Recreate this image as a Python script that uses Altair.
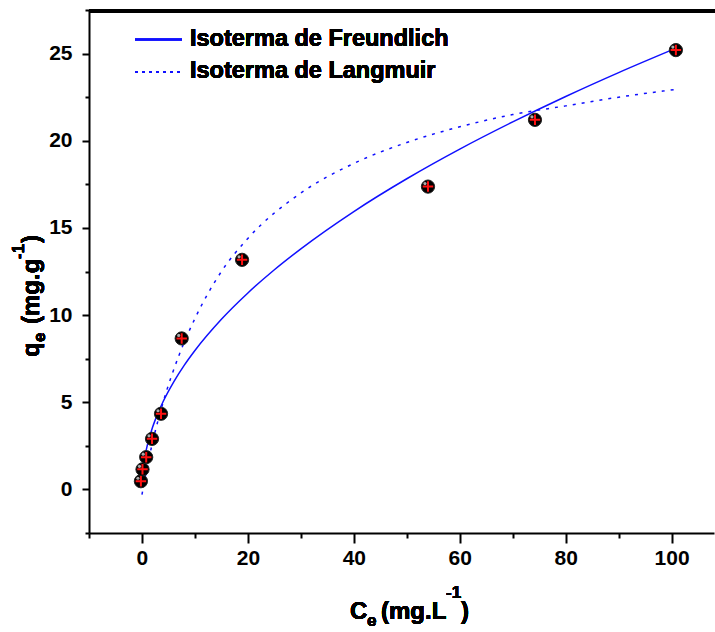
import altair as alt
import pandas as pd

# Experimental points (Ce, qe)
ce_points = [-0.2, 0.1, 0.8, 1.9, 3.6, 7.5, 18.9, 54.0, 74.2, 100.8]
qe_points = [0.47, 1.15, 1.85, 2.9, 4.34, 8.66, 13.17, 17.37, 21.2, 25.2]

# Freundlich curve
fr_c = [0.02, 0.1, 0.3, 0.6, 1, 2, 3, 4, 6, 8, 10, 15, 20, 25, 30, 40, 50, 60, 70, 80, 90, 101]
fr_q = [0.36, 0.80, 1.38, 1.95, 2.52, 3.56, 4.36, 5.04, 6.17, 7.13, 7.97, 9.76, 11.27, 12.6,
        13.80, 15.94, 17.82, 19.52, 21.08, 22.54, 23.91, 25.33]

# Langmuir curve
la_c = [0, 1, 2, 4, 7, 10, 15, 20, 30, 40, 50, 60, 70, 80, 90, 101]
la_q = [-0.3, 1.3, 2.7, 5.0, 7.7, 9.8, 12.5, 14.4, 17.0, 18.7, 19.9, 20.8, 21.5, 22.0, 22.5, 22.95]

x_ticks = [-10, 0, 10, 20, 30, 40, 50, 60, 70, 80, 90, 100]
y_ticks = [-2.5, 0, 2.5, 5, 7.5, 10, 12.5, 15, 17.5, 20, 22.5, 25, 27.5]

legend_labels = ["Isoterma de Freundlich", "Isoterma de Langmuir"]

FONT = "Liberation Sans"

pts = pd.DataFrame({"C": ce_points, "q": qe_points})
fr = pd.DataFrame({"C": fr_c, "q": fr_q})
la = pd.DataFrame({"C": la_c, "q": la_q})

xscale = alt.Scale(domain=[-10, 108], nice=False, zero=False)
yscale = alt.Scale(domain=[-2.5, 27.5], nice=False, zero=False)

xaxis = alt.Axis(
    values=x_ticks, orient="bottom", title=None, grid=False,
    labelExpr="datum.value % 20 === 0 ? datum.label : ''",
    tickSize={"condition": {"test": "datum.value % 20 === 0", "value": 10}, "value": 5},
    tickWidth=2, tickColor="black", domainColor="black", domainWidth=2,
    labelFont=FONT, labelFontWeight="bold", labelFontSize=21, labelColor="black",
    labelPadding=4, labelFlush=False, labelOverlap=False,
)
yaxis = alt.Axis(
    values=y_ticks, orient="left", title=None, grid=False,
    labelExpr="datum.value % 5 === 0 ? datum.label : ''",
    tickSize={"condition": {"test": "datum.value % 5 === 0", "value": 7}, "value": 4},
    tickWidth=2, tickColor="black", domainColor="black", domainWidth=2,
    labelFont=FONT, labelFontWeight="bold", labelFontSize=21, labelColor="black",
    labelPadding=10, labelFlush=False, labelOverlap=False,
)

X = alt.X("C:Q", scale=xscale, axis=xaxis)
Y = alt.Y("q:Q", scale=yscale, axis=yaxis)

fr_line = alt.Chart(fr).mark_line(color="#1010ff", strokeWidth=1.5, interpolate="monotone").encode(
    x=X, y=Y, order="C:Q")
la_line = alt.Chart(la).mark_line(color="#1010ff", strokeWidth=1.5, strokeDash=[3, 6],
                                  interpolate="monotone").encode(x=X, y=Y, order="C:Q")

balls = alt.Chart(pts).mark_point(filled=True, color="black", size=175, opacity=1,
                                  stroke="#222222", strokeWidth=1).encode(x=X, y=Y)
shine = alt.Chart(pts).mark_circle(color="#aaaaaa", size=10, opacity=1,
                                   xOffset=-3, yOffset=-3).encode(x=X, y=Y)
cross = alt.Chart(pts).mark_point(shape="M-1,0L1,0M0,-1L0,1", filled=False, color="#ff1010",
                                  size=110, strokeWidth=2, opacity=1).encode(x=X, y=Y)

# Top frame line
top_rule = alt.Chart(pts).mark_rule(color="black", strokeWidth=3).encode(
    x=alt.value(0), x2=alt.value(626), y=alt.value(1))

# Legend
leg_solid = alt.Chart(pts).mark_rule(color="#1010ff", strokeWidth=1.5).encode(
    x=alt.value(46), x2=alt.value(93), y=alt.value(29.5))
leg_dot = alt.Chart(pts).mark_rule(color="#1010ff", strokeWidth=1.5, strokeDash=[3, 4]).encode(
    x=alt.value(46), x2=alt.value(93), y=alt.value(62))
leg_t1 = alt.Chart(pts).mark_text(text=legend_labels[0], font=FONT, fontWeight="bold", fontSize=23.5,
                                  align="left", baseline="middle", color="black").encode(
    x=alt.value(101), y=alt.value(29))
leg_t2 = alt.Chart(pts).mark_text(text=legend_labels[1], font=FONT, fontWeight="bold", fontSize=23.5,
                                  align="left", baseline="middle", color="black").encode(
    x=alt.value(101), y=alt.value(61))


def txt(s, x, y, size, angle=0):
    return alt.Chart(pts).mark_text(text=s, font=FONT, fontWeight="bold", fontSize=size,
                                    align="left", baseline="alphabetic", color="black",
                                    angle=angle).encode(x=alt.value(x), y=alt.value(y))


# X axis title: C_e (mg.L^-1)
xt = [
    txt("C", 261, 609, 24),
    txt("e", 278, 616, 17),
    txt("(mg.L", 292, 609, 24),
    txt("-1", 357, 588, 17),
    txt(")", 372, 609, 24),
]
# Y axis title: q_e (mg.g^-1), rotated
yt = [
    txt("q", -50, 347, 24, 270),
    txt("e", -44, 332, 17, 270),
    txt("(mg.g", -50, 314, 24, 270),
    txt("-1", -65, 249, 17, 270),
    txt(")", -50, 233, 24, 270),
]

chart = alt.layer(
    fr_line, la_line, balls, shine, cross, top_rule,
    leg_solid, leg_dot, leg_t1, leg_t2, *xt, *yt
).properties(
    width=625, height=523,
    padding={"left": 89, "top": 10, "right": 1, "bottom": 99},
    autosize=alt.AutoSizeParams(type="none"),
    background="white",
).configure_view(stroke=None)

chart.save("out.html", embed_options={"renderer": "svg", "actions": False})
